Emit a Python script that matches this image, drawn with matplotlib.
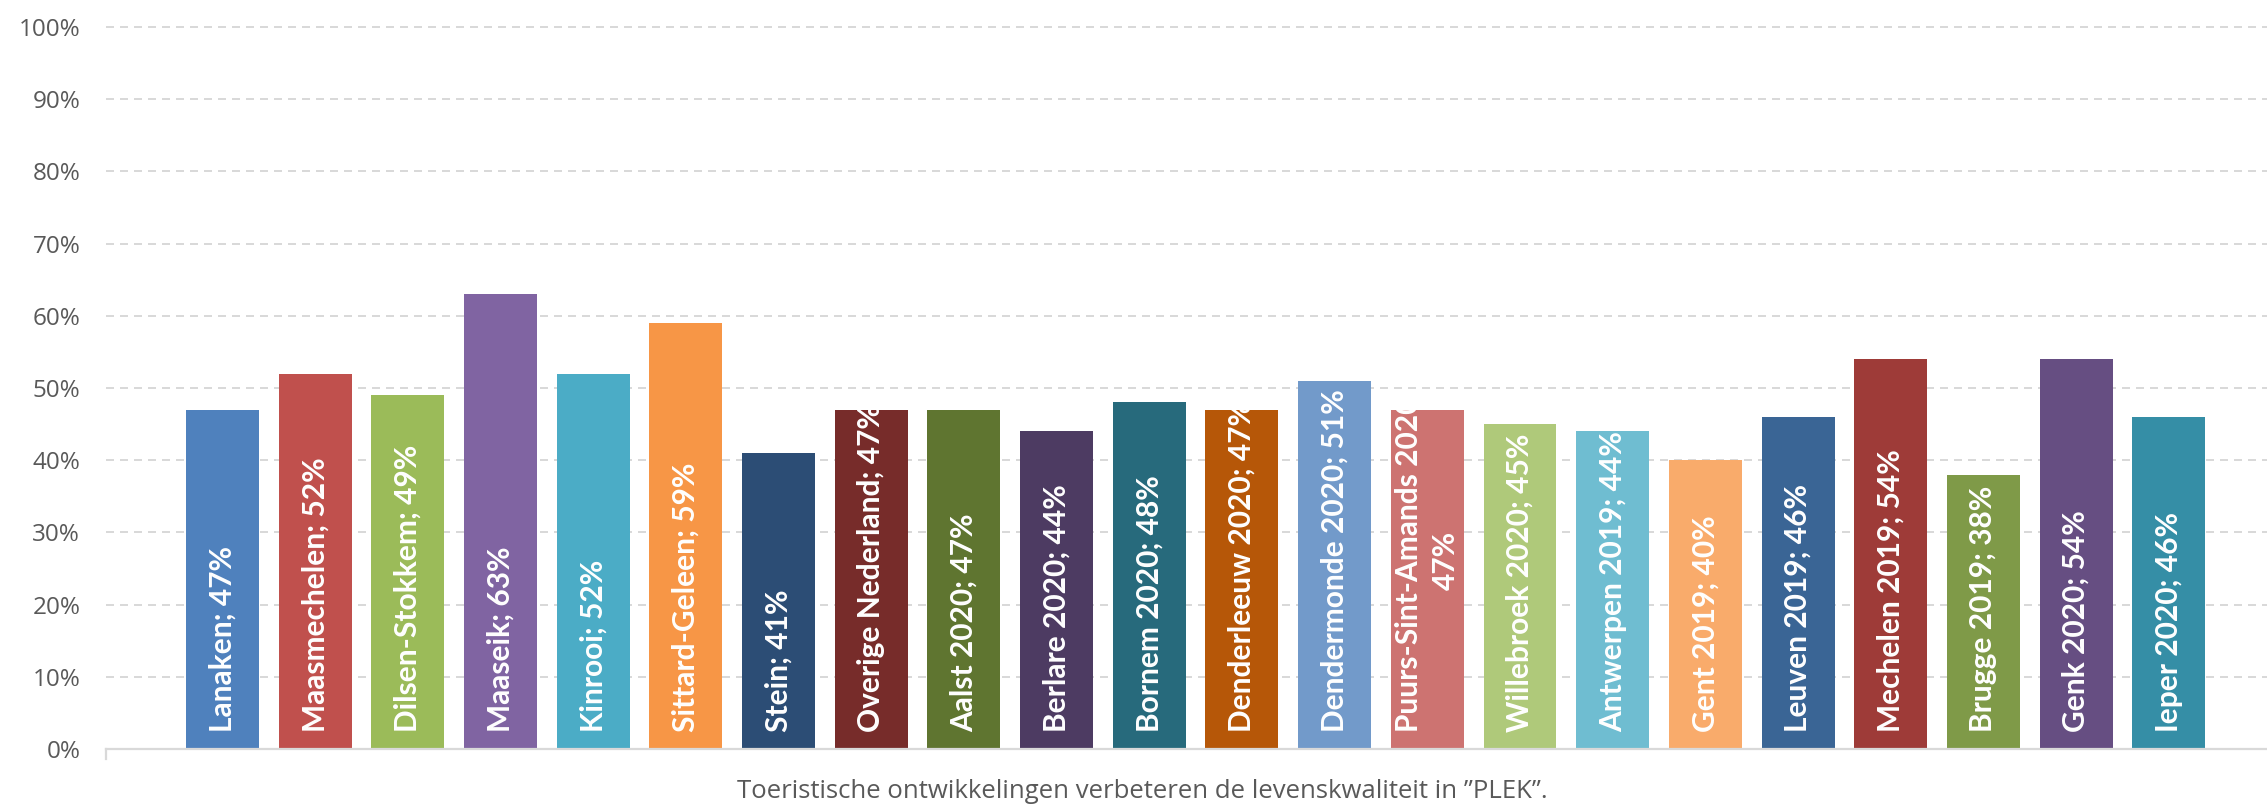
import matplotlib
matplotlib.use("Agg")
import matplotlib.pyplot as plt

categories = ["Lanaken", "Maasmechelen", "Dilsen-Stokkem", "Maaseik", "Kinrooi",
              "Sittard-Geleen", "Stein", "Overige Nederland", "Aalst 2020", "Berlare 2020",
              "Bornem 2020", "Denderleeuw 2020", "Dendermonde 2020", "Puurs-Sint-Amands 2020",
              "Willebroek 2020", "Antwerpen 2019", "Gent 2019", "Leuven 2019", "Mechelen 2019",
              "Brugge 2019", "Genk 2020", "Ieper 2020"]
values = [47, 52, 49, 63, 52, 59, 41, 47, 47, 44, 48, 47, 51, 47, 45, 44, 40, 46, 54, 38, 54, 46]
colors = ["#4F81BD", "#C0504D", "#9BBB59", "#8064A2", "#4BACC6", "#F79646", "#2C4D75",
          "#772C2A", "#5F7530", "#4D3B62", "#276A7C", "#B65708", "#729ACA", "#CD7371",
          "#AFC97A", "#6FBDD1", "#F9AB6B", "#3A6595", "#9E3B38", "#7F9A48", "#664E82",
          "#358EA6"]
yticks = [0, 10, 20, 30, 40, 50, 60, 70, 80, 90, 100]
xlabel = "Toeristische ontwikkelingen verbeteren de levenskwaliteit in \u201dPLEK\u201d."

plt.rcParams['lines.scale_dashes'] = False

W, H = 2267, 807
fig = plt.figure(figsize=(W / 100, H / 100), dpi=100)
ax = fig.add_axes([106 / W, (H - 749) / H, (W - 106) / W, 722 / H])

x = list(range(len(categories)))
bars = ax.bar(x, values, width=0.787, color=colors, zorder=3)

for xi, cat, v, b in zip(x, categories, values, bars):
    if cat.startswith("Puurs"):
        lab = f"{cat};\n{v}%"
    else:
        lab = f"{cat}; {v}%"
    t = ax.text(xi, 2.3, lab, rotation=90, ha='center', va='bottom',
                multialignment='center', color='white', fontsize=21.5,
                fontweight='bold', family=['Lato', 'DejaVu Sans'],
                linespacing=1.4, zorder=4)
    t.set_clip_path(b)

ax.set_xlim(-1.257, 22.06)
ax.set_ylim(0, 100)
ax.set_yticks(yticks)
ax.set_yticklabels([f"{t}%" for t in yticks], family=['Open Sans', 'DejaVu Sans'],
                   fontsize=17.5, color='#595959')
ax.tick_params(axis='y', length=0, pad=18.5)
ax.set_xticks([])

for g in yticks[1:]:
    ax.axhline(g, color='#D9D9D9', linewidth=1.44, dashes=(5.76, 4.32), zorder=1,
               clip_on=False)

for s in ['top', 'right', 'left']:
    ax.spines[s].set_visible(False)
ax.spines['bottom'].set_color('#D9D9D9')
ax.spines['bottom'].set_linewidth(1.6)
ax.spines['bottom'].set_zorder(5)
ax.plot([0, 0], [0, -0.014], transform=ax.transAxes, color='#D9D9D9',
        linewidth=1.6, clip_on=False)

fig.text(1142 / W, (H - 792) / H, xlabel, ha='center', va='center',
         fontsize=18.5, color='#595959', family=['Open Sans', 'DejaVu Sans'])

fig.savefig("out.png", dpi=100)
